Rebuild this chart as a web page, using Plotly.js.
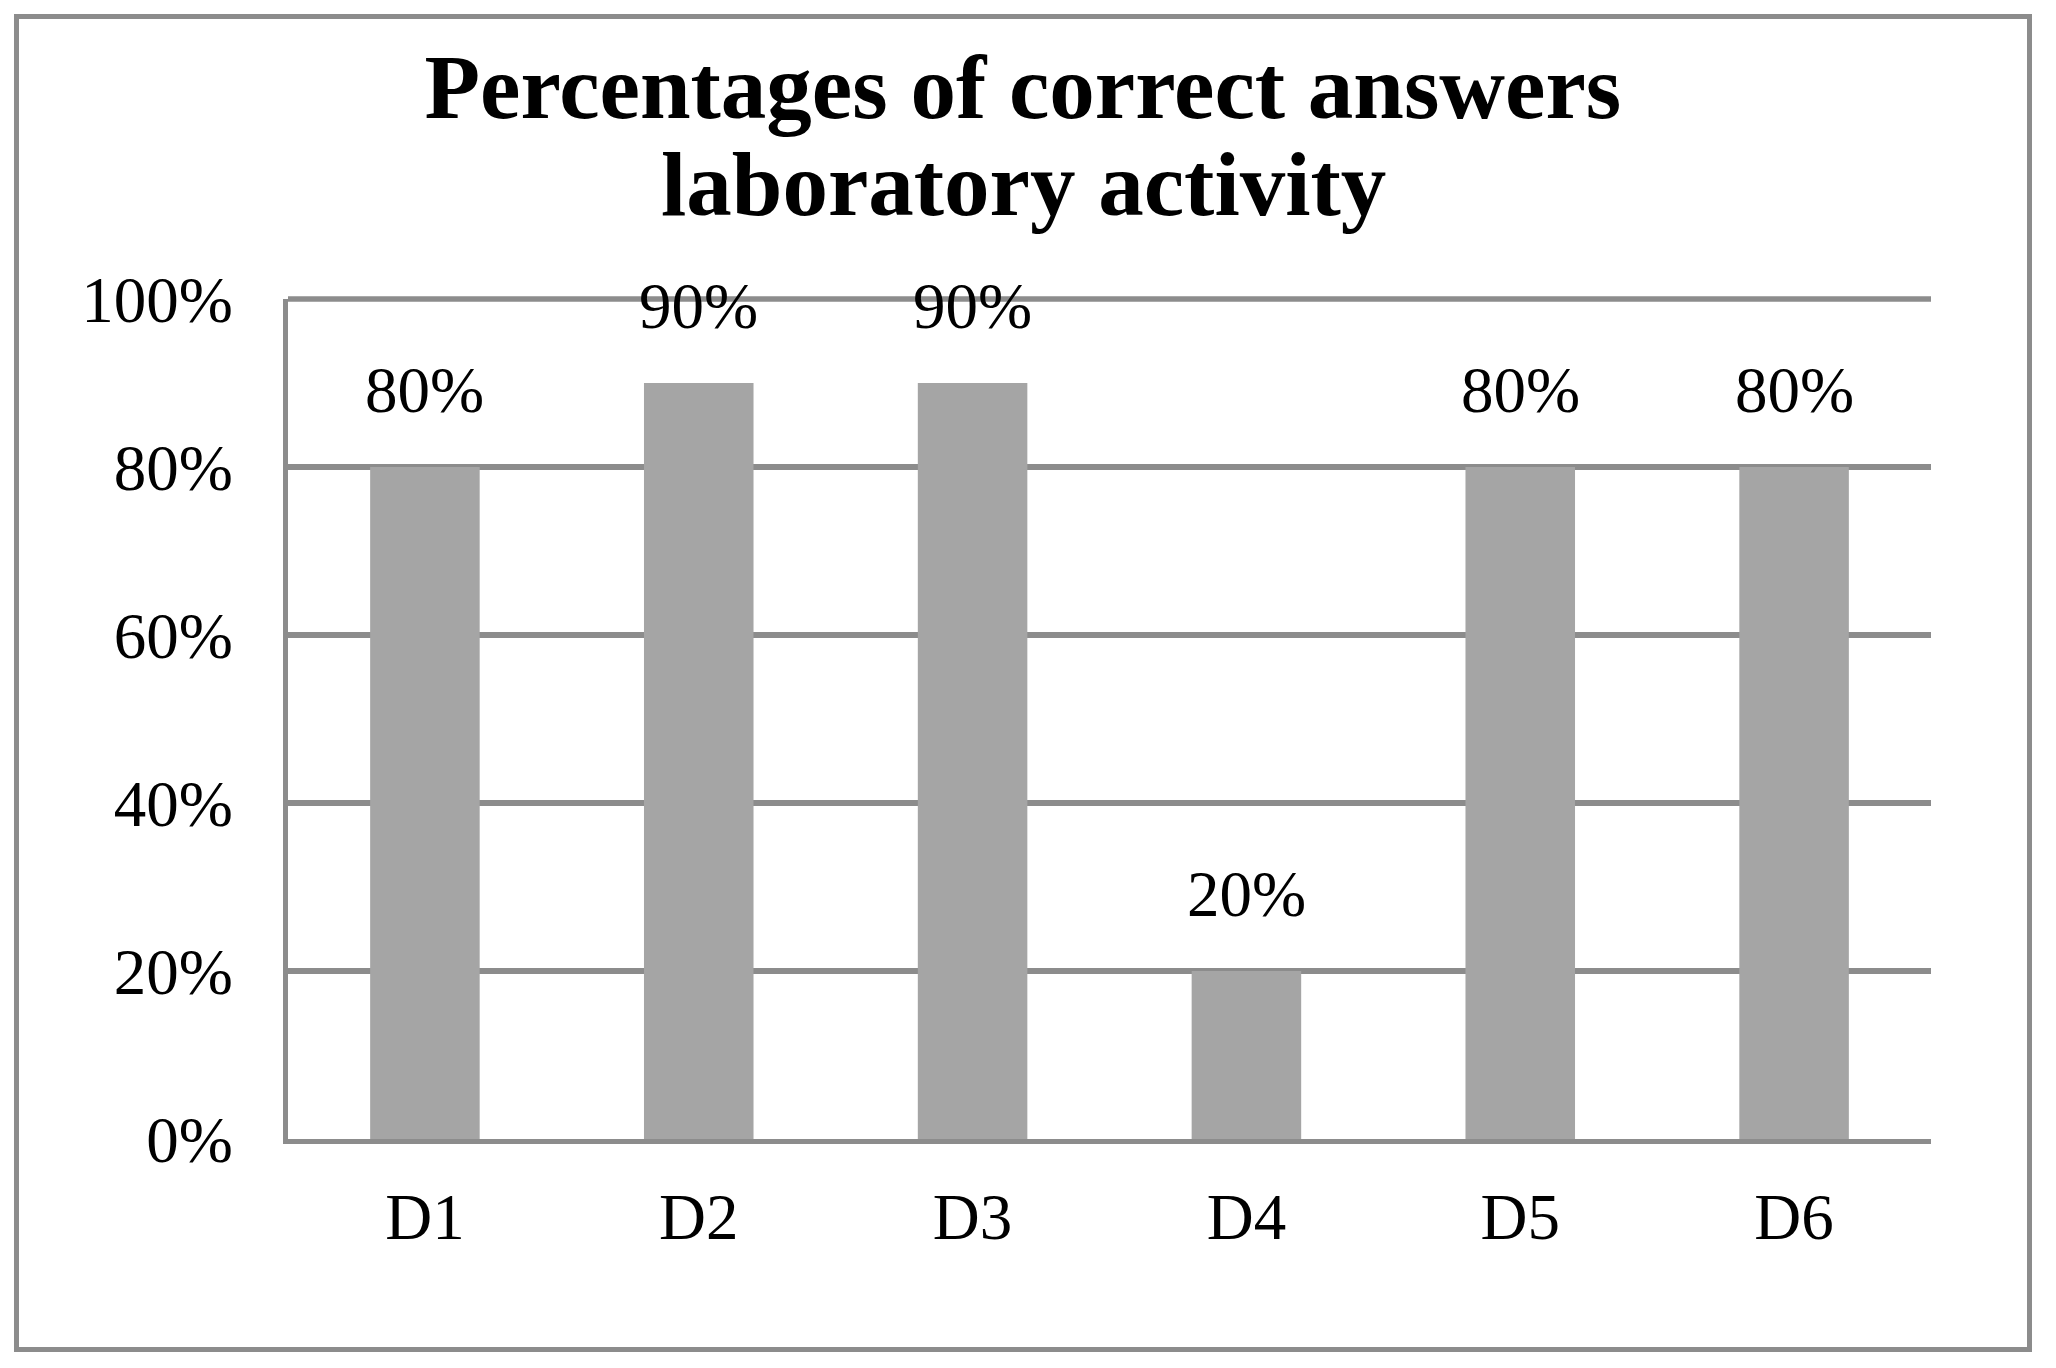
<!DOCTYPE html>
<html>
<head>
<meta charset="utf-8">
<script src="https://cdn.plot.ly/plotly-3.0.1.min.js"></script>
<style>
html,body{margin:0;padding:0;background:#fff;}
#chart{width:2056px;height:1368px;}
</style>
</head>
<body>
<div id="chart"></div>
<script>
const categories = ["D1", "D2", "D3", "D4", "D5", "D6"];
const percentCorrect = [80, 90, 90, 20, 80, 80];
const yTickValues = [0, 20, 40, 60, 80, 100];
const yTickLabels = ["0%", "20%", "40%", "60%", "80%", "100%"];
const titleLine1 = "Percentages of correct answers";
const titleLine2 = "laboratory activity";

const FONT = "Liberation Serif, 'Times New Roman', Times, serif";
const GRID = "#8c8c8c";
const BAR = "#a5a5a5";

const trace = {
  type: "bar",
  x: categories,
  y: percentCorrect,
  marker: {color: BAR, line: {width: 0}},
  hoverinfo: "x+y",
  cliponaxis: false
};

const annotations = categories.map((c, i) => ({
  x: c, y: percentCorrect[i], xref: "x", yref: "y",
  text: percentCorrect[i] + "%",
  showarrow: false, yanchor: "bottom", xanchor: "center",
  yshift: 39,
  font: {family: FONT, size: 65, color: "#000"}
}));

annotations.push({
  text: "<b>" + titleLine2 + "</b>",
  xref: "paper", yref: "paper", x: 0.4474, y: 1.1369,
  xanchor: "center", yanchor: "middle", showarrow: false,
  font: {family: FONT, size: 91, color: "#000"}
});

const maxTick = yTickValues[yTickValues.length - 1];

const layout = {
  width: 2056, height: 1368,
  paper_bgcolor: "#fff", plot_bgcolor: "#fff",
  margin: {l: 288, r: 125, t: 299, b: 229, pad: 0},
  showlegend: false,
  bargap: 0.6,
  title: {
    text: titleLine1,
    font: {family: FONT, size: 91, color: "#000", weight: "bold"},
    xref: "container", x: 0.4975, xanchor: "center",
    yref: "container", y: 0.9371, yanchor: "middle"
  },
  xaxis: {
    type: "category",
    showline: true, linecolor: GRID, linewidth: 5,
    showgrid: false, zeroline: false, ticks: "",
    tickfont: {family: FONT, size: 65, color: "#000"},
    ticklabelstandoff: 17
  },
  yaxis: {
    range: [0, maxTick],
    tickvals: yTickValues, ticktext: yTickLabels,
    showline: true, linecolor: GRID, linewidth: 5,
    showgrid: true, gridcolor: GRID, gridwidth: 5.5,
    zeroline: false, ticks: "",
    tickfont: {family: FONT, size: 65, color: "#000"},
    ticklabelstandoff: 37
  },
  annotations: annotations,
  shapes: [{
    type: "rect", xref: "paper", yref: "paper",
    x0: -0.16525, x1: 1.05995, y0: -0.2506, y1: 1.33631,
    line: {color: GRID, width: 5}, fillcolor: "rgba(0,0,0,0)", layer: "below"
  }, {
    type: "line", xref: "paper", yref: "paper",
    x0: 0, x1: 1, y0: 1, y1: 1,
    line: {color: GRID, width: 5.5}, layer: "below"
  }]
};

Plotly.newPlot("chart", [trace], layout, {displayModeBar: false, staticPlot: true});
</script>
</body>
</html>
